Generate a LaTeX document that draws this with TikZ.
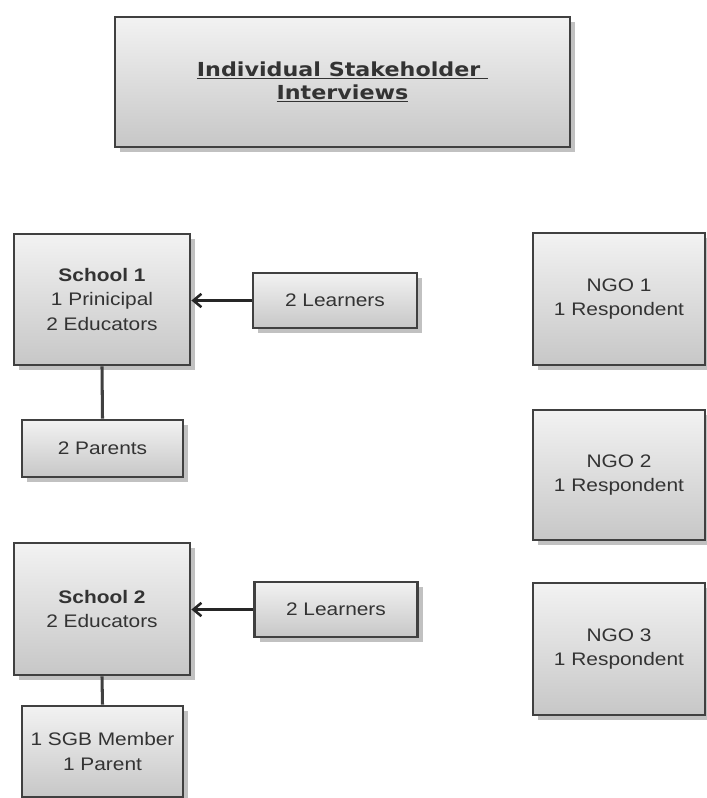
\documentclass[tikz,border=0pt]{standalone}
\usepackage{fontspec}
\setmainfont{Liberation Sans}[FakeStretch=1.15]
\newfontfamily\headfont{DejaVu Sans}[FakeStretch=1.15]
\usepackage{tikz}
\usetikzlibrary{arrows.meta,shadows}

\begin{document}
\begin{tikzpicture}[
    x=0.03cm, y=-0.03cm,
    text=black!80,
    box/.style={rectangle, draw=black!75, line width=2.4pt, inner sep=0pt,
        top color=black!5, bottom color=black!22, align=center,
        font=\fontsize{15.5}{20.5}\selectfont,
        drop shadow={shadow xshift=0.16cm, shadow yshift=-0.16cm, fill=black!30, opacity=0.8}},
    arrowline/.style={-{Straight Barb[length=2.4mm,width=4mm,line width=2.2pt]}, line width=2.2pt, draw=black!85},
    linkline/.style={line width=2.6pt, draw=black!75},
]
\useasboundingbox (0,0) rectangle (707,798);

% ==================== TITLE ====================
\node[box, minimum width=13.65cm, minimum height=3.9cm,
      font=\headfont\bfseries\fontsize{16.5}{23}\selectfont] (title) at (342.5,82)
    {\underline{Individual Stakeholder\ }\\[-3pt]\underline{Interviews}};

% ==================== SCHOOL 1 ====================
\node[box, minimum width=5.28cm, minimum height=3.93cm] (school1) at (102,299.5)
    {\textbf{School 1}\\1 Prinicipal\\2 Educators};
\node[box, minimum width=4.92cm, minimum height=1.65cm] (learn1) at (335,300.5) {2 Learners};
\node[box, minimum width=4.83cm, minimum height=1.71cm] (parents1) at (102.5,448.5) {2 Parents};

\draw[arrowline] (learn1.west) -- (learn1.west -| school1.east);
\draw[linkline] (school1.south) -- (parents1.north);

% ==================== SCHOOL 2 ====================
\node[box, minimum width=5.28cm, minimum height=3.96cm] (school2) at (102,609)
    {\textbf{School 2}\\2 Educators};
\node[box, minimum width=4.89cm, minimum height=1.65cm] (learn2) at (336,609.5) {2 Learners};
\node[box, minimum width=4.83cm, minimum height=2.73cm] (sgb2) at (102.5,751.5)
    {1 SGB Member\\1 Parent};

\draw[arrowline] (learn2.west) -- (learn2.west -| school2.east);
\draw[linkline] (school2.south) -- (sgb2.north);

% ==================== NGOs ====================
\node[box, minimum width=5.16cm, minimum height=3.96cm] (ngo1) at (619,299) {NGO 1\\1 Respondent};
\node[box, minimum width=5.16cm, minimum height=3.9cm] (ngo2) at (619,475) {NGO 2\\1 Respondent};
\node[box, minimum width=5.16cm, minimum height=3.96cm] (ngo3) at (619,649) {NGO 3\\1 Respondent};

\end{tikzpicture}
\end{document}
